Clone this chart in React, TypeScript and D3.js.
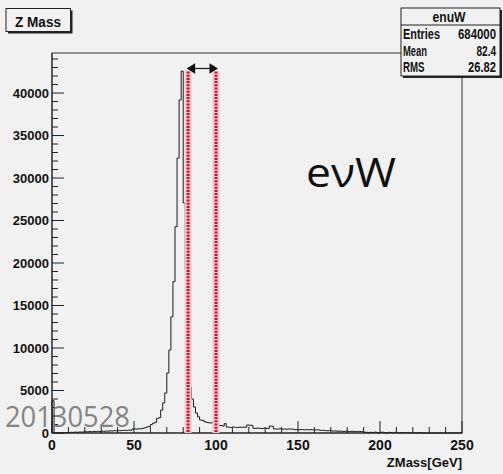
import React from "react";
import * as d3 from "d3";

// Z mass histogram, 200 bins of 1.25 GeV from 0 to 250 GeV
const binLow = 0;
const binHigh = 250;
const counts: number[] = [
  // 0 - 10 GeV
  3800, 20, 0, 30, 10, 40, 20, 50,
  // 10 - 20
  60, 90, 70, 110, 80, 120, 100, 130,
  // 20 - 30
  150, 120, 170, 140, 190, 160, 200, 180,
  // 30 - 40
  220, 190, 240, 210, 260, 230, 280, 250,
  // 40 - 48.75
  290, 270, 300, 320, 290, 340, 310,
  // 48.75 - 60
  470, 480, 460, 500, 490, 560, 620, 700, 760,
  // 60 - 70
  1000, 1150, 1250, 1700, 1800, 2700, 3530, 4700,
  // 70 - 80
  7060, 9760, 13680, 17800, 24270, 32350, 39180, 42580,
  // 80 - 90
  27060, 19180, 10500, 5400, 4000, 3060, 2350, 1900,
  // 90 - 100
  1530, 1500, 1350, 1250, 1200, 1180, 1250, 1150,
  // 100 - 106.25
  940, 900, 880, 820, 1100,
  // 106.25 - 118.75
  700, 680, 650, 700, 660, 640, 690, 650, 700, 670,
  // 118.75 - 122.5
  940, 920, 900,
  // 122.5 - 132.5
  560, 540, 580, 550, 520, 560, 540, 530,
  // 132.5 - 135
  820, 800,
  // 135 - 147.5
  480, 460, 470, 500, 450, 470, 440, 480, 460, 450,
  // 147.5 - 163.75
  400, 390, 380, 410, 390, 370, 400, 380, 390, 370, 360, 380, 350,
  // 163.75 - 176.25
  300, 320, 280, 260, 300, 240, 220, 250, 200, 230,
  // 176.25 - 190
  200, 180, 220, 190, 170, 210, 180, 160, 190, 170, 150,
  // 190 - 225
  100, 80, 0, 90, 60, 100, 70, 0, 80, 90, 50, 0, 70, 60, 0, 80, 40, 0, 60, 0,
  50, 30, 0, 40, 0, 20, 0, 30,
  // 225 - 250
  0, 0, 0, 0, 0, 0, 0, 0, 0, 0, 0, 0, 0, 0, 0, 0, 0, 0, 0, 0,
];

const xMajorTicks = [0, 50, 100, 150, 200, 250];
const yMajorTicks = [0, 5000, 10000, 15000, 20000, 25000, 30000, 35000, 40000];
const windowEdges = [83, 100];

const histName = "enuW";
const statLabels = ["Entries", "Mean", "RMS"];
const statValues = ["684000", "82.4", "26.82"];

const W = 503;
const H = 474;
const frame = { left: 52, right: 462, top: 53, bottom: 433 };
const bg = "#f1f1f1";
const rootFont = "'Liberation Sans', Arial, Helvetica, sans-serif";

export default function App() {
  const nBins = counts.length;
  const binW = (binHigh - binLow) / nBins;
  const yMax = 1.05 * (d3.max(counts) as number);

  const x = d3.scaleLinear().domain([binLow, binHigh]).range([frame.left, frame.right]);
  const y = d3.scaleLinear().domain([0, yMax]).range([frame.bottom, frame.top]);

  // step outline of the histogram
  const pts: [number, number][] = [[x(binLow), y(0)]];
  counts.forEach((c, i) => {
    const lo = binLow + i * binW;
    const hi = lo + binW;
    pts.push([x(lo), y(c)], [x(hi), y(c)]);
  });
  pts.push([x(binHigh), y(0)]);
  const histPath = d3.line()(pts) as string;

  const xMinor = d3.range(binLow, binHigh + 0.001, 10);
  const yMinor = d3.range(0, yMax, 1000);

  const tickMajor = 12;
  const tickMinor = 6;

  const arrowY = 68.5;
  const xa = x(windowEdges[0]) - 1.5;
  const xb = x(windowEdges[1]) + 2;

  return (
    <svg
      width={W}
      height={H}
      viewBox={`0 0 ${W} ${H}`}
      style={{ position: "absolute", left: 0, top: 0, background: bg }}
    >
      <rect x={0} y={0} width={W} height={H} fill={bg} />

      {/* frame */}
      <rect
        x={frame.left}
        y={frame.top}
        width={frame.right - frame.left}
        height={frame.bottom - frame.top}
        fill="none"
        stroke="#333"
        strokeWidth={1}
      />

      {/* histogram */}
      <path d={histPath} fill="none" stroke="#1a1a1a" strokeWidth={1} />

      {/* x axis ticks */}
      {xMinor.map((v) => {
        const major = xMajorTicks.includes(v);
        return (
          <line
            key={`xt${v}`}
            x1={x(v)}
            x2={x(v)}
            y1={frame.bottom}
            y2={frame.bottom - (major ? tickMajor : tickMinor)}
            stroke="#222"
            strokeWidth={1}
          />
        );
      })}
      {/* y axis ticks */}
      {yMinor.map((v) => {
        const major = yMajorTicks.includes(v);
        return (
          <line
            key={`yt${v}`}
            x1={frame.left}
            x2={frame.left + (major ? tickMajor : tickMinor)}
            y1={y(v)}
            y2={y(v)}
            stroke="#222"
            strokeWidth={1}
          />
        );
      })}
      <line x1={frame.left} x2={frame.right} y1={frame.bottom} y2={frame.bottom} stroke="#222" />
      <line x1={frame.left} x2={frame.left} y1={frame.top} y2={frame.bottom} stroke="#222" />

      {/* tick labels */}
      {yMajorTicks.map((v) => (
        <text
          key={`yl${v}`}
          x={frame.left - 3}
          y={y(v)}
          dy="0.36em"
          textAnchor="end"
          fontFamily={rootFont}
          fontWeight="bold"
          fontSize={13}
          fill="#111"
        >
          {v}
        </text>
      ))}
      {xMajorTicks.map((v) => (
        <text
          key={`xl${v}`}
          x={x(v)}
          y={450}
          textAnchor="middle"
          fontFamily={rootFont}
          fontWeight="bold"
          fontSize={14}
          fill="#111"
        >
          {v}
        </text>
      ))}
      <text
        x={frame.right}
        y={467}
        textAnchor="end"
        fontFamily={rootFont}
        fontWeight="bold"
        fontSize={13}
        fill="#111"
      >
        ZMass[GeV]
      </text>

      {/* mass window */}
      {windowEdges.map((v) => (
        <g key={`w${v}`}>
          <line x1={x(v)} x2={x(v)} y1={71.5} y2={frame.bottom} stroke="#f4c6cc" strokeWidth={7} />
          <line
            x1={x(v)}
            x2={x(v)}
            y1={71.5}
            y2={frame.bottom}
            stroke="#c8102e"
            strokeWidth={3}
            strokeDasharray="2 1.2"
          />
        </g>
      ))}
      <line x1={xa + 8} x2={xb - 8} y1={arrowY} y2={arrowY} stroke="#222" strokeWidth={1.3} />
      <path d={`M${xa},${arrowY} L${xa + 8.5},${arrowY - 5.3} L${xa + 8.5},${arrowY + 5.3} Z`} fill="#111" />
      <path d={`M${xb},${arrowY} L${xb - 8.5},${arrowY - 5.3} L${xb - 8.5},${arrowY + 5.3} Z`} fill="#111" />

      {/* process label */}
      <text
        x={306}
        y={187}
        fontFamily="'Open Sans', 'Noto Sans', sans-serif"
        fontSize={40}
        fill="#111"
        textLength={90}
        lengthAdjust="spacingAndGlyphs"
      >
        eνW
      </text>

      {/* date stamp */}
      <text
        x={5}
        y={427}
        fontFamily="'Open Sans', 'Noto Sans', sans-serif"
        fontSize={30}
        fill="#858585"
        textLength={125}
        lengthAdjust="spacingAndGlyphs"
      >
        20130528
      </text>

      {/* title box */}
      <rect x={8} y={10.5} width={64.5} height={23} fill="#222" />
      <rect x={6} y={8.5} width={64.5} height={23} fill={bg} stroke="#222" strokeWidth={1} />
      <text
        x={15}
        y={26.5}
        fontFamily={rootFont}
        fontWeight="bold"
        fontSize={15}
        fill="#111"
        textLength={46}
        lengthAdjust="spacingAndGlyphs"
      >
        Z Mass
      </text>

      {/* statistics box */}
      <rect x={403} y={10} width={99} height={68} fill="#222" />
      <rect x={401} y={8} width={99} height={68} fill={bg} stroke="#222" strokeWidth={1} />
      <line x1={401} x2={500} y1={25} y2={25} stroke="#222" strokeWidth={1} />
      <text
        x={449}
        y={22}
        textAnchor="middle"
        fontFamily={rootFont}
        fontWeight="bold"
        fontSize={14}
        fill="#111"
        textLength={33}
        lengthAdjust="spacingAndGlyphs"
      >
        {histName}
      </text>
      {statLabels.map((lab, i) => (
        <text
          key={lab}
          x={403}
          y={39 + i * 16.5}
          fontFamily={rootFont}
          fontWeight="bold"
          fontSize={14}
          fill="#111"
          textLength={[37, 24, 21.5][i]}
          lengthAdjust="spacingAndGlyphs"
        >
          {lab}
        </text>
      ))}
      {statValues.map((val, i) => (
        <text
          key={val}
          x={496}
          y={39 + i * 16.5}
          textAnchor="end"
          fontFamily={rootFont}
          fontWeight="bold"
          fontSize={14}
          fill="#111"
          textLength={[38, 19.5, 28][i]}
          lengthAdjust="spacingAndGlyphs"
        >
          {val}
        </text>
      ))}
    </svg>
  );
}
